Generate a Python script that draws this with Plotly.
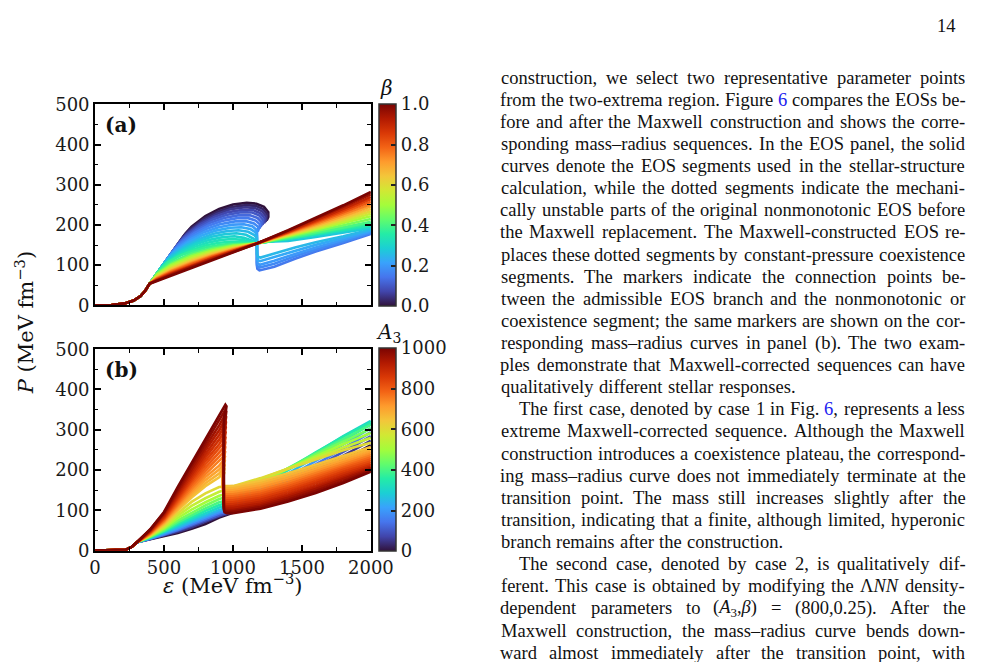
import plotly.graph_objects as go
from plotly.colors import sample_colorscale

FW, FH = 1007, 662

# ---------------- Panel (a): EOS family coloured by beta ----------------
A_LEAD_EPS = [0, 120, 221, 280, 330, 365]
A_LEAD_P = [0, 0.5, 5, 12, 23, 37]

BETA_HUMP = [0.000, 0.025, 0.050, 0.075, 0.100, 0.125, 0.150, 0.175,
             0.200, 0.225, 0.250, 0.275, 0.300, 0.325, 0.350, 0.375]
A_HUMP_EPS = [
    [396, 657, 700, 800, 900, 1000, 1100, 1170, 1225, 1256, 1256, 1244],
    [396, 643, 690, 790, 890, 990, 1095, 1165, 1218, 1248, 1247, 1235],
    [396, 630, 680, 780, 880, 980, 1090, 1160, 1212, 1240, 1238, 1225],
    [396, 615, 665, 765, 865, 965, 1075, 1150, 1201, 1229, 1226, 1212],
    [396, 600, 650, 750, 850, 950, 1060, 1140, 1190, 1218, 1214, 1200],
    [396, 585, 635, 735, 835, 935, 1045, 1125, 1178, 1207, 1203, 1190],
    [396, 570, 620, 720, 820, 920, 1030, 1110, 1165, 1195, 1192, 1180, 1173, 1173, 1177, 1192, 1300, 1450, 1600, 1800, 2000],
    [396, 555, 605, 705, 805, 905, 1015, 1095, 1152, 1182, 1183, 1173, 1173, 1177, 1193, 1300, 1450, 1600, 1800, 2000],
    [396, 540, 590, 690, 790, 890, 1000, 1080, 1140, 1168, 1173, 1173, 1178, 1195, 1300, 1450, 1600, 1800, 2000],
    [396, 525, 575, 675, 775, 875, 980, 1060, 1125, 1162, 1173, 1173, 1178, 1197, 1300, 1450, 1600, 1800, 2000],
    [396, 510, 560, 660, 760, 860, 960, 1040, 1110, 1155, 1173, 1173, 1179, 1200, 1300, 1450, 1600, 1800, 2000],
    [396, 497, 547, 645, 745, 845, 945, 1025, 1095, 1148, 1173, 1400, 1600, 1800, 2000],
    [396, 485, 535, 630, 730, 830, 930, 1010, 1080, 1140, 1173, 1400, 1600, 1800, 2000],
    [396, 473, 522, 615, 715, 815, 915, 995, 1070, 1130, 1173, 1400, 1600, 1800, 2000],
    [396, 462, 510, 600, 700, 800, 900, 980, 1060, 1120, 1173, 1400, 1600, 1800, 2000],
    [396, 456, 530, 625, 700, 800, 900, 980, 1060, 1120, 1173, 1400, 1600, 1800, 2000],
]
A_HUMP_P = [
    [54, 179, 196, 222, 240, 251, 255, 253, 245, 232, 220, 211],
    [54, 173, 190, 215, 233, 245, 249.5, 247.5, 239.5, 227, 216, 208],
    [54, 166, 184, 209, 227, 239, 244, 242, 234, 222, 212, 205],
    [54, 159, 177, 202, 220, 232, 238, 236.5, 229, 217.5, 207.5, 201],
    [54, 152, 170, 195, 213, 225, 232, 231, 224, 213, 203, 197],
    [54, 144.5, 162.5, 187.5, 205.5, 217.5, 224.5, 224, 217.5, 207.5, 198, 192],
    [54, 137, 155, 180, 198, 210, 217, 217, 211, 202, 193, 188, 184, 100, 91, 87, 96, 116, 134, 155, 178],
    [54, 130, 147.5, 172, 190, 202, 209, 209.5, 204, 195.5, 186, 182, 106, 97.5, 94, 103.5, 122, 139, 159, 180.5],
    [54, 123, 140, 164, 182, 194, 201, 202, 197, 189, 180, 112, 104, 101, 111, 128, 144, 163, 183],
    [54, 116, 133, 156.5, 174, 186, 193, 194.5, 190, 182, 174, 120, 112.5, 110, 120, 136, 150.5, 167.5, 186],
    [54, 109, 126, 149, 166, 178, 185, 187, 183, 175, 168, 128, 121, 119, 129, 144, 157, 172, 189],
    [54, 103, 119.5, 142, 159, 170.5, 177.5, 179.5, 175.5, 166, 157, 160, 170, 181, 192],
    [54, 97, 113, 135, 152, 163, 170, 172, 168, 161, 155, 165, 175, 185, 195],
    [54, 91, 107.5, 128.5, 145, 156, 163, 165, 163, 158.5, 154.5, 165.5, 176.5, 187, 198],
    [54, 86, 102, 122, 138, 149, 156, 158, 158, 156, 154, 166, 178, 189, 201],
    [54, 83, 108, 125, 134, 144, 150, 153, 153.5, 153.5, 154, 167, 179.5, 191.5, 204.5],
]

BETA_MONO = [0.40, 0.45, 0.50, 0.55, 0.60, 0.65, 0.70, 0.75, 0.80, 0.85, 0.90, 0.95, 1.00]
A_MONO_EPS = [396, 450, 550, 700, 850, 1000, 1173, 1400, 1600, 1800, 2000]
A_MONO_P = [
    [54, 80.8, 106.4, 129.6, 143.6, 151.8, 154, 168, 181, 194, 208],
    [54, 78.6, 102.8, 125.6, 140.2, 149.6, 154, 169.9, 184.5, 199.4, 215],
    [54, 76.4, 99.2, 121.6, 136.8, 147.4, 154, 171.7, 188, 204.7, 222],
    [54, 74.2, 95.6, 117.6, 133.4, 145.2, 154, 173.2, 191, 209, 228],
    [54, 72, 92, 113.6, 130, 143, 154, 174.8, 194, 213.6, 234],
    [54, 70.4, 89.3, 110.6, 127.5, 141.4, 154, 176.4, 197, 218, 240],
    [54, 68.7, 86.6, 107.6, 124.9, 139.7, 154, 178, 200, 222.5, 246],
    [54, 67.3, 84.4, 105, 122.8, 138.3, 154, 179.5, 203, 227, 252],
    [54, 66, 82, 102.6, 120.7, 137, 154, 181, 206, 231.5, 258],
    [54, 64.6, 79.9, 100.1, 118.5, 135.6, 154, 182.6, 209, 236, 264],
    [54, 63.5, 78, 98, 117, 134.5, 154, 184, 212, 240, 270],
    [54, 62, 76, 96, 115, 133, 154, 186, 215, 245, 276],
    [54, 61, 74, 94, 113, 132, 154, 187, 218, 249, 282],
]

# ---------------- Panel (b): EOS family coloured by A3 ----------------
A3_VALUES = [0, 50, 100, 150, 200, 250, 300, 350, 400, 450, 500, 550, 600,
             650, 675, 700, 725, 750, 775, 800, 825, 850, 875, 900, 925, 950, 975, 1000]
B_LEAD_EPS = [0, 130, 222, 265]
B_LEAD_P = [0, 0.3, 2, 9]
B_RISE_EPS = [305, 400, 500, 600, 700, 800, 900]
B_RISE_P = [
    [21, 28, 36, 44, 54, 66, 82],
    [21, 29, 38, 47, 58, 71, 85],
    [21, 29, 39, 50, 62, 75, 88],
    [21, 30, 40, 52, 65, 79, 92],
    [21, 30, 42, 55, 69, 83, 96],
    [21, 31, 44, 58, 73, 87, 101],
    [21, 32, 46, 62, 78, 93, 107],
    [21, 33, 48, 66, 83, 99, 113],
    [21, 34, 50, 70, 88, 105, 120],
    [21, 35, 53, 75, 94, 112, 128],
    [21, 36, 56, 81, 102, 120, 136],
    [21, 37, 59, 87, 111, 130, 146],
    [21, 38, 62, 93, 121, 142, 158],
    [21, 40, 66, 100, 132, 160, 182],
    [21, 40.5, 68, 103.5, 137.5, 167.5, 191.5],
    [21, 41, 70, 107, 143, 175, 201],
    [21, 42, 72, 110.5, 148.5, 182.5, 211],
    [21, 43, 74, 114, 154, 190, 221],
    [21, 44, 76, 118, 160, 198, 231.5],
    [21, 45, 78, 122, 166, 206, 242],
    [21, 46, 80, 126, 172, 214.5, 253],
    [21, 47, 82, 130, 178, 223, 264],
    [21, 48, 84.5, 134.5, 184.5, 231.5, 275.5],
    [21, 49, 87, 139, 191, 240, 287],
    [21, 50, 89.5, 143.5, 197.5, 249, 299],
    [21, 51, 92, 148, 204, 258, 311],
    [21, 52, 94, 153, 211, 267, 323.5],
    [21, 53, 96, 158, 218, 276, 336],
]
B_HUMP_EPS = [[]] * 13 + [
    [918, 930, 937, 933, 926, 923, 923, 928, 942],
    [919, 931.5, 938.5, 934.5, 927, 924, 924, 929, 943],
    [920, 933, 940, 936, 928, 925, 925, 930, 944],
    [920.5, 934, 941, 937, 929, 926, 926, 931, 945],
    [921, 935, 942, 938, 930, 927, 927, 932, 946],
    [921.5, 936, 943, 939, 931, 928, 928, 933, 947],
    [922, 937, 944, 940, 932, 929, 929, 934, 948],
    [922.5, 937.5, 945, 941, 933, 930, 930, 935, 949],
    [923, 938, 946, 942, 934, 931, 931, 936, 950],
    [923.5, 939, 947, 943, 934.5, 931.5, 931.5, 936.5, 950.5],
    [924, 940, 948, 944, 935, 932, 932, 937, 951],
    [924.5, 941, 949, 945, 935.5, 932.5, 932.5, 937.5, 952],
    [925, 942, 950, 946, 936, 933, 933, 938, 953],
    [925, 943.5, 951.5, 947, 936.5, 933.5, 933.5, 938.5, 954],
    [925, 945, 953, 948, 937, 934, 934, 939, 955],
]
B_HUMP_P = [[]] * 13 + [
    [190, 196, 193, 188, 183, 177, 168, 162, 160],
    [199.5, 206, 202.5, 197, 191.5, 184.5, 163, 157, 155],
    [209, 216, 212, 206, 200, 192, 158, 152, 150],
    [219.5, 227, 223, 216.5, 210, 201, 153, 147, 145],
    [230, 238, 234, 227, 220, 210, 148, 142, 140],
    [241, 249.5, 245.5, 238, 230.5, 220, 143, 137, 135],
    [252, 261, 257, 249, 241, 230, 138, 132, 130],
    [263.5, 273, 269, 260.5, 252, 240.5, 133, 127, 125],
    [275, 285, 281, 272, 263, 251, 128, 122, 120],
    [287, 297.5, 293.5, 284, 274.5, 262, 123, 117, 115],
    [299, 310, 306, 296, 286, 273, 118, 112, 110],
    [311.5, 323, 319, 308.5, 298, 284.5, 113.5, 107.5, 105.5],
    [324, 336, 332, 321, 310, 296, 109, 103, 101],
    [337, 349, 345, 333.5, 322, 308, 105, 99, 97],
    [350, 362, 358, 346, 334, 320, 101, 95, 93],
]
B_RIGHT_EPS = [1000, 1200, 1400, 1600, 1800, 2000]
B_RIGHT_P = [
    [94, 121, 154, 190, 226, 262],
    [96, 126, 161, 198, 235, 273],
    [98, 131, 168, 206, 245, 284],
    [101, 137, 175, 214, 254, 294],
    [105, 143, 182, 223, 264, 304],
    [110, 150, 191, 233, 274, 314],
    [116, 158, 200, 243, 284, 322],
    [122, 161, 203, 244, 283, 318],
    [129, 165, 205, 242, 278, 312],
    [137, 169, 205, 239, 271, 303],
    [145, 173, 204, 235, 264, 292],
    [154, 178, 204, 230, 256, 280],
    [160, 180, 203, 227, 249, 268],
    [160, 173, 192, 213, 235, 257],
    [155, 167.5, 186.5, 207.5, 229.5, 251.5],
    [150, 162, 181, 202, 224, 246],
    [145, 156.5, 175.5, 197, 219, 241],
    [140, 151, 170, 192, 214, 236],
    [135, 146, 165, 187, 209.5, 231],
    [130, 141, 160, 182, 205, 226],
    [125, 136, 155, 177, 200.5, 221],
    [120, 131, 150, 172, 196, 216],
    [115, 126, 145, 167, 191, 212],
    [110, 121, 140, 162, 186, 208],
    [105.5, 116.5, 135.5, 157.5, 181.5, 205],
    [101, 112, 131, 153, 177, 202],
    [97, 108, 126.5, 148, 172.5, 199],
    [93, 104, 122, 143, 168, 196],
]

BETA_TICKS = [0.0, 0.2, 0.4, 0.6, 0.8, 1.0]
A3_TICKS = [0, 200, 400, 600, 800, 1000]

# ---------------- page text ----------------
TEXT_LINES = [
    ("construction, we select two representative parameter points", "J", 0),
    ("from the two-extrema region. Figure {6} compares the EOSs be-", "J", 0),
    ("fore and after the Maxwell construction and shows the corre-", "J", 0),
    ("sponding mass–radius sequences. In the EOS panel, the solid", "J", 0),
    ("curves denote the EOS segments used in the stellar-structure", "J", 0),
    ("calculation, while the dotted segments indicate the mechani-", "J", 0),
    ("cally unstable parts of the original nonmonotonic EOS before", "J", 0),
    ("the Maxwell replacement. The Maxwell-constructed EOS re-", "J", 0),
    ("places these dotted segments by constant-pressure coexistence", "J", 0),
    ("segments. The markers indicate the connection points be-", "J", 0),
    ("tween the admissible EOS branch and the nonmonotonic or", "J", 0),
    ("coexistence segment; the same markers are shown on the cor-", "J", 0),
    ("responding mass–radius curves in panel (b). The two exam-", "J", 0),
    ("ples demonstrate that Maxwell-corrected sequences can have", "J", 0),
    ("qualitatively different stellar responses.", "L", 0),
    ("The first case, denoted by case 1 in Fig. {6,} represents a less", "J", 1),
    ("extreme Maxwell-corrected sequence. Although the Maxwell", "J", 0),
    ("construction introduces a coexistence plateau, the correspond-", "J", 0),
    ("ing mass–radius curve does not immediately terminate at the", "J", 0),
    ("transition point. The mass still increases slightly after the", "J", 0),
    ("transition, indicating that a finite, although limited, hyperonic", "J", 0),
    ("branch remains after the construction.", "L", 0),
    ("The second case, denoted by case 2, is qualitatively dif-", "J", 1),
    ("ferent. This case is obtained by modifying the {LNN} density-", "J", 0),
    ("dependent parameters to {A3B} = (800,0.25). After the", "J", 0),
    ("Maxwell construction, the mass–radius curve bends down-", "J", 0),
    ("ward almost immediately after the transition point, with", "J", 0),
]
LINK = "#2020f0"
SPECIAL = {
    "{6}": ('<span style="color:%s">6</span>' % LINK, 500),
    "{6,}": ('<span style="color:%s">6</span>,' % LINK, 750),
    "{LNN}": ("Λ<i>NN</i>", 2056),
    "{A3B}": ("(<i>A</i><sub>3</sub>,<i>β</i>)", 2380),
}

TW = {}
for chars, w in [(" ,.", 250), ("ijlt:;/", 278), ("frI()-[]'", 333), ("sJ", 389),
                 ("acez?", 444), ("bdghknopquvxy0123456789–*", 500), ("FPS", 556),
                 ("=+<>", 564), ("ETLZ", 611), ("BCR", 667),
                 ("ADGHKNOQUVXYwΛ", 722), ("m", 778), ("M", 889), ("W", 944)]:
    for ch in chars:
        TW[ch] = w

FS = 18.5          # css size; renders about as wide as 19.3 px Times metrics
EM_W = 19.3
X_LEFT, X_RIGHT, INDENT = 509, 988, 19
BASE0, LSTEP = 75, 22.84


def PX(x):
    return x / FW


def PY(y):
    return 1 - y / FH


def wpx(units):
    return units * EM_W / 1000.0


def word(tok):
    if tok in SPECIAL:
        html, u = SPECIAL[tok]
        return html, wpx(u)
    return tok, wpx(sum(TW.get(c, 500) for c in tok))


fig = go.Figure()
LW = 2.6

for b, e, p in zip(BETA_HUMP, A_HUMP_EPS, A_HUMP_P):
    c = sample_colorscale("Turbo", [b])[0]
    fig.add_trace(go.Scatter(x=A_LEAD_EPS + e, y=A_LEAD_P + p, mode="lines",
                             line=dict(color=c, width=LW), xaxis="x", yaxis="y",
                             showlegend=False, hoverinfo="skip"))
for b, p in zip(BETA_MONO, A_MONO_P):
    c = sample_colorscale("Turbo", [b])[0]
    fig.add_trace(go.Scatter(x=A_LEAD_EPS + A_MONO_EPS, y=A_LEAD_P + p, mode="lines",
                             line=dict(color=c, width=LW), xaxis="x", yaxis="y",
                             showlegend=False, hoverinfo="skip"))

for k, a3 in enumerate(A3_VALUES):
    c = sample_colorscale("Turbo", [a3 / 1000.0])[0]
    xs = B_LEAD_EPS + B_RISE_EPS + B_HUMP_EPS[k] + B_RIGHT_EPS
    ys = B_LEAD_P + B_RISE_P[k] + B_HUMP_P[k] + B_RIGHT_P[k]
    fig.add_trace(go.Scatter(x=xs, y=ys, mode="lines", line=dict(color=c, width=LW),
                             xaxis="x2", yaxis="y2", showlegend=False, hoverinfo="skip"))

TICKFONT = dict(family="DejaVu Serif", size=18, color="#1a1a1a")


def cbar(ytop, ybot, vals, texts):
    return dict(thickness=17, thicknessmode="pixels", len=(ybot - ytop) / FH, lenmode="fraction",
                x=PX(384), xanchor="left", xpad=0, y=PY((ytop + ybot) / 2), yanchor="middle", ypad=0,
                outlinewidth=1.5, outlinecolor="#333", ticks="inside", ticklen=5,
                tickwidth=1.5, tickcolor="#222", tickvals=vals, ticktext=texts,
                tickfont=TICKFONT)


fig.add_trace(go.Scatter(x=[None], y=[None], mode="markers", xaxis="x", yaxis="y",
                         showlegend=False, hoverinfo="skip",
                         marker=dict(color=[0], colorscale="Turbo", cmin=0, cmax=1, showscale=True,
                                     colorbar=cbar(96, 305, BETA_TICKS,
                                                   ["%.1f" % v for v in BETA_TICKS]))))
fig.add_trace(go.Scatter(x=[None], y=[None], mode="markers", xaxis="x2", yaxis="y2",
                         showlegend=False, hoverinfo="skip",
                         marker=dict(color=[0], colorscale="Turbo", cmin=0, cmax=1000, showscale=True,
                                     colorbar=cbar(348, 558, A3_TICKS,
                                                   [str(v) for v in A3_TICKS]))))

axis_common = dict(showline=True, linecolor="black", linewidth=1.8, mirror="allticks",
                   ticks="inside", ticklen=6, tickwidth=1.6, tickcolor="black",
                   showgrid=False, zeroline=False, tickfont=TICKFONT)
xdom = [PX(91.7), PX(375.7)]
xa = dict(axis_common, range=[0, 2000], tick0=0, dtick=500, domain=xdom,
          minor=dict(ticks="inside", ticklen=3.5, tickwidth=1.3, tickcolor="black", dtick=250, showgrid=False))
ya = dict(axis_common, range=[0, 500], tick0=0, dtick=100,
          minor=dict(ticks="inside", ticklen=3.5, tickwidth=1.3, tickcolor="black", dtick=50, showgrid=False))

fig.update_layout(
    width=FW, height=FH, margin=dict(l=0, r=0, t=0, b=0),
    paper_bgcolor="white", plot_bgcolor="white", hovermode=False,
    xaxis=dict(xa, anchor="y", showticklabels=False),
    yaxis=dict(ya, anchor="x", domain=[PY(304), PY(96.5)]),
    xaxis2=dict(xa, anchor="y2"),
    yaxis2=dict(ya, anchor="x2", domain=[PY(557.3), PY(349.3)]),
)

ann = []


def add(text, x, y, size, family="DejaVu Serif", xanchor="center", yanchor="middle",
        angle=0, color="#111"):
    ann.append(dict(text=text, x=PX(x), y=PY(y), xref="paper", yref="paper",
                    xanchor=xanchor, yanchor=yanchor, showarrow=False, textangle=angle,
                    borderpad=0, borderwidth=0,
                    font=dict(family=family, size=size, color=color)))


add("<b>(a)</b>", 102, 118, 20, xanchor="left")
add("<b>(b)</b>", 102, 371, 20, xanchor="left")
add("<i>β</i>", 392, 80, 20)
add("<i>A</i><sub>3</sub>", 394, 333, 20)
add("<i>P</i> (MeV fm<sup>−3</sup>)", 19, 322, 21, angle=-90)
add("<i>ε</i> (MeV fm<sup>−3</sup>)", 233, 592, 21)

# page number and body text
add("14", 978, 15, FS, family="Liberation Serif", xanchor="right")
for i, (line, mode, ind) in enumerate(TEXT_LINES):
    yc = BASE0 + i * LSTEP - 6.2
    x0 = X_LEFT + (INDENT if ind else 0)
    toks = [word(t) for t in line.split(" ")]
    if mode == "L":
        gap = wpx(250)
    else:
        total = sum(w for _, w in toks)
        gap = (X_RIGHT - x0 - total) / (len(toks) - 1)
    x = x0
    for html, w in toks:
        add(html, x + w / 2, yc, FS, family="Liberation Serif", xanchor="center")
        x += w + gap

fig.update_layout(annotations=ann)
fig.write_html("out.html")
